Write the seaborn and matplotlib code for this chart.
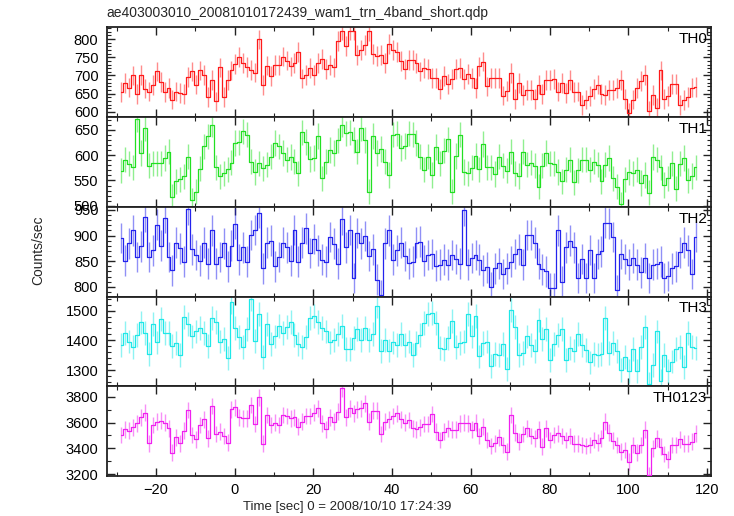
import numpy as np
import matplotlib
matplotlib.use("Agg")
import matplotlib.pyplot as plt
from matplotlib.ticker import MultipleLocator
import seaborn as sns

# ---------------- data (1 s bins) ----------------
bin_start = -29.3
bin_width = 1.0

th0 = [655, 679, 667, 700, 650, 701, 664, 656, 674, 711, 683, 654, 665, 634, 656, 652, 649, 695, 711, 675,
       714, 702, 641, 687, 629, 722, 641, 688, 714, 732, 750, 734, 723, 715, 708, 799, 673, 727, 699, 729,
       729, 752, 741, 725, 734, 764, 692, 702, 720, 702, 735, 745, 717, 729, 722, 795, 823, 781, 823, 823,
       756, 770, 784, 821, 759, 754, 756, 735, 786, 770, 765, 739, 717, 743, 743, 735, 711, 720, 717, 693,
       693, 663, 699, 677, 690, 717, 720, 690, 704, 693, 665, 725, 738, 670, 693, 693, 693, 645, 658, 706,
       636, 679, 647, 661, 661, 635, 675, 650, 688, 688, 690, 656, 679, 652, 688, 654, 656, 620, 634, 643,
       663, 675, 650, 647, 661, 661, 665, 688, 635, 597, 634, 665, 685, 702, 604, 647, 612, 714, 636, 643,
       677, 677, 620, 632, 641, 667, 668]

th1 = [569, 591, 583, 576, 671, 604, 653, 579, 584, 584, 584, 594, 607, 518, 548, 552, 558, 597, 511, 528,
       573, 617, 637, 660, 576, 558, 564, 572, 585, 624, 625, 647, 640, 587, 567, 584, 574, 581, 597, 624,
       617, 604, 591, 596, 587, 564, 645, 626, 592, 594, 638, 554, 587, 610, 604, 629, 660, 643, 645, 630,
       607, 653, 630, 528, 638, 604, 612, 587, 561, 640, 642, 614, 618, 642, 641, 624, 597, 571, 597, 561,
       616, 584, 609, 631, 528, 598, 640, 567, 564, 575, 598, 572, 622, 576, 576, 563, 597, 579, 569, 607,
       564, 559, 607, 581, 585, 579, 538, 579, 604, 584, 583, 567, 548, 571, 591, 546, 570, 591, 591, 571,
       587, 581, 548, 581, 594, 554, 538, 503, 552, 567, 564, 571, 545, 561, 526, 596, 591, 576, 541, 554,
       584, 534, 583, 594, 550, 559, 576]

th2 = [895, 851, 885, 910, 858, 879, 936, 858, 871, 921, 880, 934, 858, 832, 886, 875, 849, 951, 873, 862,
       851, 886, 845, 910, 845, 858, 885, 840, 880, 923, 853, 877, 849, 901, 911, 944, 836, 886, 890, 840,
       858, 886, 877, 851, 911, 849, 886, 914, 866, 893, 871, 853, 849, 897, 884, 845, 932, 877, 911, 817,
       905, 885, 899, 860, 873, 814, 784, 885, 910, 853, 871, 886, 860, 846, 849, 886, 888, 851, 862, 864,
       841, 843, 853, 843, 862, 854, 845, 949, 843, 856, 862, 853, 832, 838, 799, 836, 846, 825, 836, 849,
       864, 873, 843, 901, 901, 886, 845, 834, 830, 797, 797, 910, 810, 877, 890, 877, 817, 854, 817, 872,
       817, 864, 869, 925, 924, 897, 793, 864, 854, 843, 856, 843, 828, 856, 817, 843, 845, 849, 817, 821,
       836, 840, 867, 886, 871, 825, 897]

th3 = [1385, 1424, 1396, 1377, 1418, 1460, 1426, 1355, 1455, 1393, 1471, 1426, 1426, 1382, 1391, 1351,
       1478, 1455, 1413, 1430, 1441, 1424, 1382, 1474, 1463, 1396, 1404, 1340, 1530, 1441, 1411, 1377,
       1437, 1538, 1399, 1489, 1344, 1455, 1388, 1413, 1449, 1424, 1446, 1463, 1418, 1388, 1377, 1411,
       1474, 1482, 1463, 1441, 1430, 1393, 1402, 1422, 1449, 1370, 1370, 1407, 1437, 1402, 1441, 1402,
       1422, 1516, 1363, 1402, 1366, 1393, 1385, 1422, 1385, 1396, 1350, 1391, 1418, 1458, 1489, 1491,
       1458, 1374, 1370, 1407, 1466, 1377, 1391, 1396, 1489, 1413, 1482, 1346, 1391, 1396, 1315, 1355,
       1351, 1388, 1303, 1502, 1444, 1351, 1359, 1413, 1385, 1363, 1469, 1404, 1437, 1335, 1388, 1418,
       1437, 1335, 1374, 1366, 1422, 1385, 1368, 1326, 1355, 1351, 1355, 1474, 1359, 1391, 1363, 1301,
       1344, 1296, 1370, 1298, 1379, 1444, 1254, 1318, 1430, 1265, 1351, 1298, 1329, 1370, 1379, 1310,
       1426, 1377, 1374]

th0123 = [3504, 3548, 3537, 3563, 3594, 3640, 3676, 3440, 3581, 3607, 3615, 3599, 3555, 3368, 3486, 3440,
          3537, 3697, 3504, 3470, 3581, 3625, 3478, 3728, 3512, 3530, 3496, 3445, 3702, 3718, 3640, 3633,
          3633, 3736, 3589, 3795, 3435, 3658, 3581, 3599, 3581, 3658, 3651, 3633, 3640, 3568, 3607, 3651,
          3651, 3676, 3710, 3594, 3548, 3640, 3607, 3684, 3864, 3640, 3710, 3671, 3702, 3710, 3749, 3607,
          3692, 3692, 3512, 3607, 3625, 3651, 3671, 3625, 3599, 3620, 3555, 3548, 3563, 3589, 3589, 3666,
          3530, 3465, 3530, 3555, 3543, 3543, 3594, 3599, 3594, 3543, 3599, 3496, 3568, 3465, 3419, 3440,
          3486, 3427, 3375, 3658, 3522, 3453, 3512, 3555, 3496, 3478, 3548, 3414, 3555, 3465, 3504, 3517,
          3496, 3465, 3496, 3435, 3435, 3427, 3419, 3427, 3465, 3445, 3478, 3607, 3522, 3460, 3427, 3375,
          3388, 3298, 3427, 3368, 3427, 3543, 3195, 3401, 3478, 3414, 3357, 3316, 3427, 3427, 3470, 3435,
          3435, 3453, 3517]

band_names = ["TH0", "TH1", "TH2", "TH3", "TH0123"]
band_errors = [27, 25, 30, 40, 65]

title = "ae403003010_20081010172439_wam1_trn_4band_short.qdp"
xlabel = "Time [sec] 0 = 2008/10/10 17:24:39"
ylabel = "Counts/sec"

# ---------------- style ----------------
sns.set_theme(style="white")
plt.rcParams["font.family"] = ["Liberation Sans", "DejaVu Sans"]

colors = ["#ff1a1a", "#22e022", "#2323ee", "#1ee8e8", "#f020f0"]
ylims = [(586, 832), (498, 675), (781, 956), (1246, 1547), (3187, 3880)]
majors = [50, 50, 50, 100, 200]
minors = [10, 10, 10, 20, 100]

fig = plt.figure(figsize=(7.34, 5.16), dpi=100)
gs = fig.add_gridspec(5, 1, left=0.1454, right=0.968, top=0.947, bottom=0.0775, hspace=0)
axes = [fig.add_subplot(gs[i]) for i in range(5)]

series = [th0, th1, th2, th3, th0123]
for i, (ax, vals) in enumerate(zip(axes, series)):
    vals = np.asarray(vals, dtype=float)
    t = bin_start + bin_width * (np.arange(len(vals)) + 0.5)
    err = band_errors[i]
    ax.errorbar(t, vals, yerr=err, fmt="none", ecolor=colors[i], elinewidth=1.0, alpha=0.5, zorder=2)
    sns.lineplot(x=t, y=vals, ax=ax, color=colors[i], lw=0.9, drawstyle="steps-mid",
                 errorbar=None, zorder=3)
    ax.set_xlim(-32.5, 120.9)
    ax.set_ylim(*ylims[i])
    ax.xaxis.set_major_locator(MultipleLocator(20))
    ax.xaxis.set_minor_locator(MultipleLocator(10))
    ax.yaxis.set_major_locator(MultipleLocator(majors[i]))
    ax.yaxis.set_minor_locator(MultipleLocator(minors[i]))
    ax.tick_params(which="both", direction="in", top=True, right=True, bottom=True, left=True,
                   colors="#222222", labelcolor="black")
    ax.tick_params(which="major", length=6, width=1.0, labelsize=10.5, pad=6)
    ax.tick_params(which="minor", length=3, width=0.8)
    ax.set_xlabel("")
    ax.set_ylabel("")
    for s in ax.spines.values():
        s.set_linewidth(1.3)
        s.set_color("#222222")
    if i < 4:
        ax.tick_params(labelbottom=False)
    ax.text(0.995, 0.945, band_names[i], transform=ax.transAxes, ha="right", va="top",
            fontsize=11, color="black")

axes[-1].tick_params(axis="x", labelsize=10.5, pad=5)
fig.text(0.1454, 0.975, title, ha="left", va="center", fontsize=10)
fig.text(0.473, 0.018, xlabel, ha="center", va="center", fontsize=9.5)
fig.text(0.052, 0.515, ylabel, ha="center", va="center", rotation=90, fontsize=10)

fig.savefig("out.png", dpi=100)
